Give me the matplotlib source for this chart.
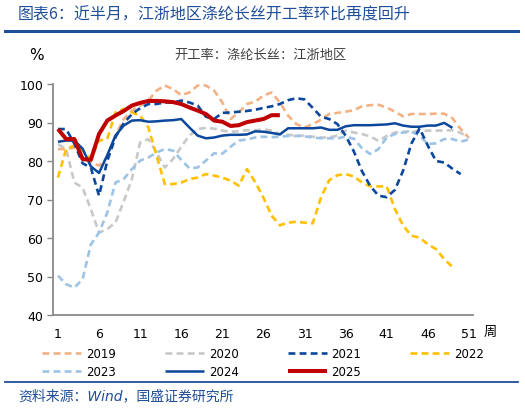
import matplotlib
matplotlib.use("Agg")
import matplotlib.pyplot as plt
from matplotlib.lines import Line2D
import numpy as np

plt.rcParams['font.family'] = ['DejaVu Sans', 'Noto Sans CJK SC']

title = "图表6：近半月，江浙地区涤纶长丝开工率环比再度回升"
subtitle = "开工率：涤纶长丝：江浙地区"
source = "资料来源：Wind，国盛证券研究所"
unit_label = "%"
week_label = "周"

x_ticks = [1, 6, 11, 16, 21, 26, 31, 36, 41, 46, 51]
y_ticks = [40, 50, 60, 70, 80, 90, 100]

y2019 = [83.1, 83.1, 83.5, 80.9, 79.6, 78.8, 80.9, 86.6, 90.9, 93.1,
         94.4, 95.7, 98.3, 99.6, 98.7, 97.1, 97.8, 99.6, 99.6, 98.3,
         95.2, 90.9, 92.6, 94.8, 95.4, 97.0, 97.8, 95.2, 91.8, 89.6,
         88.7, 89.6, 90.7, 92.2, 92.5, 92.8, 93.2, 94.2, 94.5, 94.6,
         93.9, 92.8, 91.6, 92.2, 92.2, 92.2, 92.3, 92.3, 91.1, 88.3, 86.0]
y2020 = [84.4, 83.1, 74.4, 73.1, 67.5, 61.4, 62.3, 64.0, 69.5, 75.3,
         84.8, 85.7, 82.2, 78.3, 80.5, 83.7, 86.6, 88.3, 88.6, 88.4,
         87.9, 87.6, 87.7, 88.0, 88.0, 88.2, 87.9, 87.0, 86.8, 86.6,
         86.6, 86.3, 86.1, 86.1, 86.6, 87.9, 87.4, 87.0, 86.4, 85.2,
         86.5, 87.4, 87.6, 87.7, 87.7, 87.9, 87.9, 87.9, 88.0, 87.3, 86.1]
y2021 = [88.3, 88.3, 84.5, 79.4, 78.3, 71.0, 80.0, 86.2, 89.8, 92.2,
         93.7, 94.8, 94.8, 95.2, 95.2, 95.7, 95.2, 94.4, 91.5, 90.9,
         92.5, 92.6, 92.8, 93.0, 93.3, 93.8, 94.2, 94.8, 95.8, 96.3,
         96.0, 93.8, 91.5, 90.9, 89.6, 86.6, 82.5, 77.3, 73.5, 71.0,
         70.6, 72.5, 77.5, 84.5, 88.5, 84.0, 80.0, 79.6, 78.0, 76.6]
y2022 = [75.7, 83.1, 84.0, 82.7, 80.5, 85.3, 85.7, 92.6, 93.5, 92.6,
         91.8, 88.7, 81.4, 74.0, 74.0, 74.4, 75.3, 75.7, 76.6, 76.2,
         75.7, 74.9, 73.6, 77.9, 74.5, 70.5, 65.8, 63.3, 64.0, 64.2,
         64.0, 63.8, 70.5, 75.0, 76.3, 76.6, 76.0, 74.4, 73.4, 73.4,
         73.4, 67.5, 63.2, 60.6, 60.1, 58.4, 57.1, 54.5, 52.5]
y2023 = [50.2, 48.0, 47.1, 49.3, 58.3, 61.4, 66.6, 74.4, 75.3, 77.9,
         80.1, 80.9, 82.2, 83.1, 82.7, 80.3, 78.1, 78.3, 80.1, 82.0,
         81.9, 83.7, 85.3, 85.6, 86.1, 86.3, 86.2, 86.3, 86.5, 86.5,
         86.4, 86.1, 85.9, 85.9, 85.9, 86.3, 85.8, 83.3, 81.8, 83.1,
         86.1, 87.0, 87.4, 87.6, 86.6, 84.4, 84.6, 85.7, 85.7, 85.0, 85.6]
y2024 = [85.0, 85.3, 85.3, 83.2, 78.6, 76.9, 81.5, 86.6, 89.2, 90.5,
         90.6, 90.2, 90.3, 90.5, 90.6, 90.9, 88.7, 86.6, 85.9, 86.1,
         86.6, 86.8, 86.8, 86.9, 87.7, 87.6, 87.3, 86.9, 88.5, 88.5,
         88.5, 88.5, 88.7, 88.1, 88.1, 89.0, 89.3, 89.3, 89.3, 89.4,
         89.5, 89.8, 89.2, 88.9, 88.9, 89.2, 89.2, 89.9, 88.6]
y2025 = [88.3, 85.7, 85.7, 80.5, 80.3, 87.0, 90.5, 91.8, 93.0, 94.4,
         95.1, 95.6, 95.6, 95.5, 95.3, 94.8, 93.9, 93.1, 92.2, 90.5,
         90.2, 89.1, 89.3, 90.1, 90.5, 90.9, 91.9, 91.9]

series_names = ["2019", "2020", "2021", "2022", "2023", "2024", "2025"]
series_values = [y2019, y2020, y2021, y2022, y2023, y2024, y2025]

colors = {"2019": "#F4B183", "2020": "#C8C8C8", "2021": "#0B479C",
          "2022": "#FFC000", "2023": "#9DC3E6", "2024": "#0B479C",
          "2025": "#C00000"}
styles = {"2019": "dash", "2020": "dash", "2021": "dash", "2022": "dash",
          "2023": "dash", "2024": "solid", "2025": "solid"}
widths = {"2019": 1.9, "2020": 1.9, "2021": 1.9, "2022": 1.9,
          "2023": 1.9, "2024": 1.8, "2025": 2.9}
zorders = {"2019": 2, "2020": 2.1, "2021": 3, "2022": 2.5, "2023": 2.2,
           "2024": 4, "2025": 5}

fig = plt.figure(figsize=(5.25, 4.1), dpi=100)
ax = fig.add_axes([53/525, 1-316/410, 420/525, 231/410])

handles = {}
for name, vals in zip(series_names, series_values):
    wk = np.arange(1, len(vals) + 1)
    if styles[name] == "dash":
        ln, = ax.plot(wk, vals, color=colors[name], lw=widths[name],
                      dashes=(2.6, 1.6), label=name, zorder=zorders[name])
    else:
        ln, = ax.plot(wk, vals, color=colors[name], lw=widths[name],
                      label=name, zorder=zorders[name],
                      solid_joinstyle='round', solid_capstyle='butt')
    handles[name] = ln

ax.set_xlim(0.4, 51.5)
ax.set_ylim(40, 100)
ax.set_xticks(x_ticks)
ax.set_yticks(y_ticks)
ax.tick_params(axis='x', length=0, pad=9, labelsize=9, colors='#000000')
ax.tick_params(axis='y', length=4, width=1, color='#898989', pad=3,
               labelsize=9, labelcolor='#000000', direction='out')
for s in ['top', 'right']:
    ax.spines[s].set_visible(False)
for s in ['left', 'bottom']:
    ax.spines[s].set_color('#898989')
    ax.spines[s].set_linewidth(1.3)

cjk = ['Noto Sans CJK SC', 'DejaVu Sans']
lat_cjk = ['DejaVu Sans', 'Noto Sans CJK SC']
fig.text(18/525, 1-15/410, title, family=cjk, fontsize=11.5, color='#1F4E9A',
         va='center', ha='left')
fig.add_artist(Line2D([5/525, 518/525], [1-32/410, 1-32/410],
                      transform=fig.transFigure, color='#1F4E9A', lw=2.2))
fig.text(36/525, 1-55/410, unit_label, fontsize=11, color='#000000',
         va='center', ha='center')
fig.text(260/525, 1-55/410, subtitle, family=cjk, fontsize=9.5,
         color='#404040', va='center', ha='center')
fig.text(490/525, 1-332/410, week_label, family=cjk, fontsize=9.5,
         color='#000000', va='center', ha='center')

order = ["2019", "2023", "2020", "2024", "2021", "2025", "2022"]
leg = fig.legend([handles[n] for n in order], order, ncol=4,
                 loc='upper left', bbox_to_anchor=(42/525, 1-348.5/410),
                 frameon=False, fontsize=8.5, handlelength=3.3,
                 handletextpad=0.42, columnspacing=4.15, labelspacing=0.42,
                 borderpad=0, borderaxespad=0)

fig.add_artist(Line2D([5/525, 518/525], [1-383/410, 1-383/410],
                      transform=fig.transFigure, color='#1F4E9A', lw=1.3))
fig.text(18/525, 1-396/410, source, family=lat_cjk, fontsize=10,
         color='#1F4E9A', va='center', ha='left', style='italic')

fig.savefig("out.png", dpi=100)
